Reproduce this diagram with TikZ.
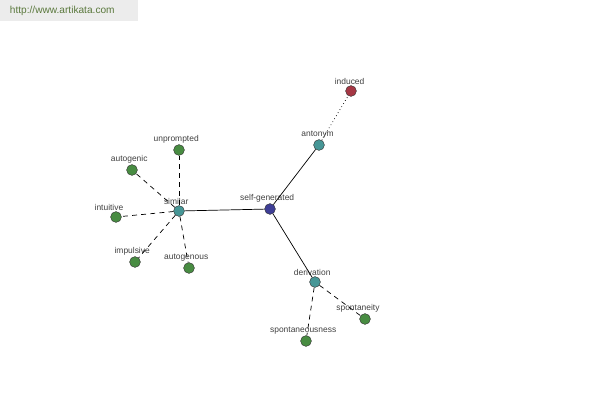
\documentclass[tikz,border=0pt]{standalone}
\usepackage{fontspec}
\setmainfont{Liberation Sans}
\usetikzlibrary{positioning}
\definecolor{rootblue}{RGB}{62,62,150}
\definecolor{reltea}{RGB}{70,150,150}
\definecolor{wordgreen}{RGB}{72,140,66}
\definecolor{antred}{RGB}{165,55,68}
\definecolor{sitegray}{RGB}{236,236,236}
\definecolor{sitegreen}{RGB}{90,120,60}

\begin{document}
\begin{tikzpicture}[x=0.025cm, y=-0.025cm,
          term/.style={circle,draw=black!80,line width=0.3pt,minimum size=0.27cm,inner sep=0pt},
          every label/.style={font=\fontsize{6}{7}\selectfont,text=black!75,inner sep=0.5pt,xshift=-2pt},
          link/.style={line width=0.5pt},
          syn/.style={line width=0.5pt,dash pattern=on 3.5pt off 3pt}]
        \useasboundingbox (0,0) rectangle (600,400);
        \fill[sitegray] (0,0) rectangle (138,21);
        \node[font=\fontsize{7.2}{8}\selectfont,text=sitegreen,anchor=west] (site) at (5,11) {http://www.artikata.com};

        \node[term,fill=rootblue,label=above:self-generated] (root) at (270,209) {};
        \node[term,fill=reltea,label=above:similar] (sim) at (179,211) {};
        \node[term,fill=reltea,label={[xshift=1pt]above:antonym}] (ant) at (319,145) {};
        \node[term,fill=reltea,label=above:derivation] (der) at (315,282) {};
        \node[term,fill=antred,label={[xshift=1pt]above:induced}] (ind) at (351,91) {};

        \node[term,fill=wordgreen,label=above:unprompted] (unp) at (179,150) {};
        \node[term,fill=wordgreen,label=above:autogenic] (agc) at (132,170) {};
        \node[term,fill=wordgreen,label={[xshift=-3pt]above:intuitive}] (int) at (116,217) {};
        \node[term,fill=wordgreen,label=above:impulsive] (imp) at (135,262) {};
        \node[term,fill=wordgreen,label=above:autogenous] (aus) at (189,268) {};
        \node[term,fill=wordgreen,label={[xshift=-3pt]above:spontaneity}] (spy) at (365,319) {};
        \node[term,fill=wordgreen,label=above:spontaneousness] (spn) at (306,341) {};

        \draw[link] (root) -- (sim);
        \draw[link] (root) -- (ant);
        \draw[link] (root) -- (der);
        \draw[line width=0.5pt,dotted] (ant) -- (ind);
        \foreach \w in {unp,agc,int,imp,aus}
          \draw[syn] (sim) -- (\w);
        \draw[syn] (der) -- (spy);
        \draw[syn] (der) -- (spn);
      \end{tikzpicture}
\end{document}
